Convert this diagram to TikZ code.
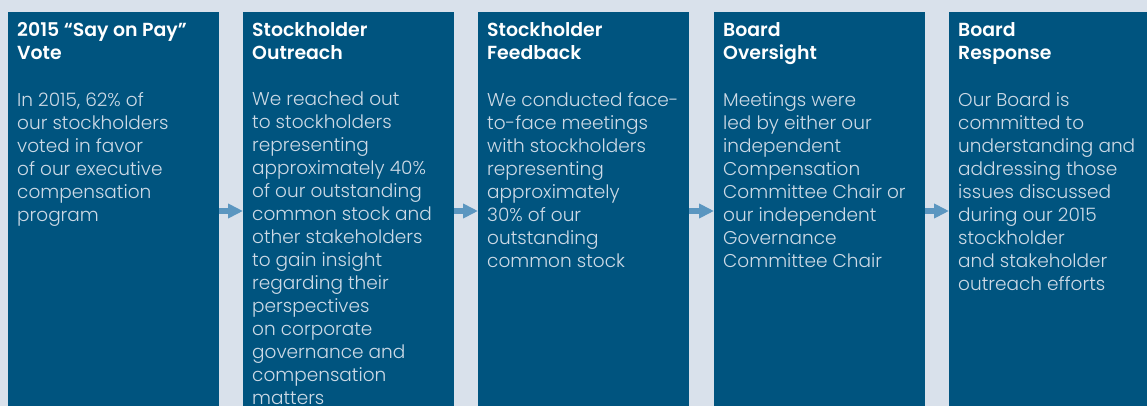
\documentclass[tikz,border=0pt]{standalone}
\usepackage{fontspec}
\usetikzlibrary{arrows.meta}
\setmainfont{Poppins}[BoldFont={Poppins SemiBold}]
\newfontfamily\lightf{Poppins Light}
\definecolor{bgc}{RGB}{217,225,235}
\definecolor{boxc}{RGB}{0,84,127}
\definecolor{arrc}{RGB}{91,150,192}
\definecolor{bodyc}{RGB}{205,218,230}
\begin{document}
\begin{tikzpicture}[x=1pt,y=-1pt,
  panel/.style={fill=boxc,draw=none},
  ttl/.style={anchor=north west,inner sep=0pt,align=left,text=white,font=\fontsize{18.9}{23}\selectfont\bfseries},
  bdy/.style={anchor=north west,inner sep=0pt,align=left,text=bodyc,font=\fontsize{18.5}{23}\selectfont\lightf},
  flow/.style={draw=arrc,line width=6pt,-{Triangle[length=15pt,width=14pt]},shorten <=0pt}]
\useasboundingbox (0,0) rectangle (1147,406);
\fill[bgc] (0,0) rectangle (1147,406);
\foreach \i/\x in {1/8,2/243,3/478,4/714,5/949}{
  \fill[panel] (\x,12) rectangle +(211,394);
  \coordinate (p\i) at (\x,12);
}
\coordinate (r1) at (219,211);
\coordinate (l2) at (243,211);
\coordinate (r2) at (454,211);
\coordinate (l3) at (478,211);
\coordinate (r3) at (689,211);
\coordinate (l4) at (714,211);
\coordinate (r4) at (925,211);
\coordinate (l5) at (949,211);
\draw[flow] (r1) -- (l2);
\draw[flow] (r2) -- (l3);
\draw[flow] (r3) -- (l4);
\draw[flow] (r4) -- (l5);

\node[ttl] (t1) at ([xshift=9pt,yshift=-10.5pt]p1) {2015 “Say on Pay”\\Vote};
\node[bdy] (b1) at ([xshift=9pt,yshift=-80pt]p1) {In 2015, 62\% of\\our stockholders\\voted in favor\\of our executive\\compensation\\program};

\node[ttl] (t2) at ([xshift=9pt,yshift=-10.5pt]p2) {Stockholder\\Outreach};
\node[bdy] (b2) at ([xshift=9pt,yshift=-80pt]p2) {We reached out\\to stockholders\\representing\\approximately 40\%\\of our outstanding\\common stock and\\other stakeholders\\to gain insight\\regarding their\\perspectives\\on corporate\\governance and\\compensation\\matters};

\node[ttl] (t3) at ([xshift=9pt,yshift=-10.5pt]p3) {Stockholder\\Feedback};
\node[bdy] (b3) at ([xshift=9pt,yshift=-80pt]p3) {We conducted face-\\to-face meetings\\with stockholders\\representing\\approximately\\30\% of our\\outstanding\\common stock};

\node[ttl] (t4) at ([xshift=9pt,yshift=-10.5pt]p4) {Board\\Oversight};
\node[bdy] (b4) at ([xshift=9pt,yshift=-80pt]p4) {Meetings were\\led by either our\\independent\\Compensation\\Committee Chair or\\our independent\\Governance\\Committee Chair};

\node[ttl] (t5) at ([xshift=9pt,yshift=-10.5pt]p5) {Board\\Response};
\node[bdy] (b5) at ([xshift=9pt,yshift=-80pt]p5) {Our Board is\\committed to\\understanding and\\addressing those\\issues discussed\\during our 2015\\stockholder\\and stakeholder\\outreach efforts};
\end{tikzpicture}
\end{document}
